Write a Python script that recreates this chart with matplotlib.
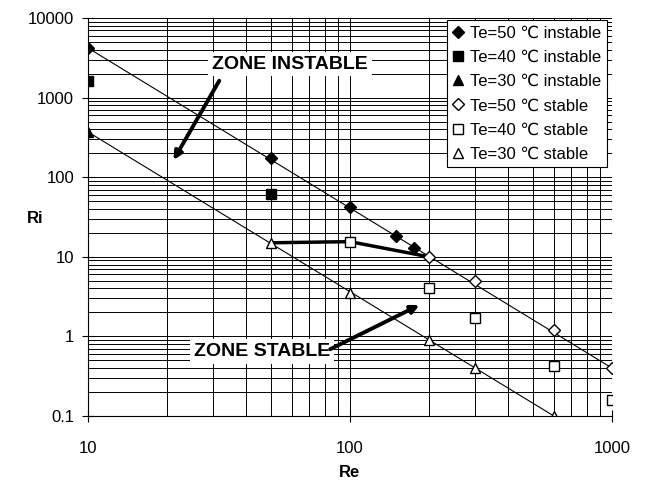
import matplotlib
matplotlib.use("Agg")
import matplotlib.pyplot as plt
from matplotlib.ticker import FixedLocator, LogLocator, FuncFormatter, NullFormatter

plt.rcParams["font.family"] = ["Liberation Sans Narrow", "Liberation Sans", "DejaVu Sans"]

# data (Re, Ri)
re_50_inst = [10, 50, 100, 150, 175]
ri_50_inst = [4200, 175, 42, 18, 13]
re_40_inst = [10, 50]
ri_40_inst = [1600, 62]
re_30_inst = [10]
ri_30_inst = [370]

re_50_stab = [200, 300, 600, 1000]
ri_50_stab = [10, 5, 1.2, 0.4]
re_40_stab = [100, 200, 300, 600, 1000]
ri_40_stab = [15.5, 4.1, 1.7, 0.43, 0.16]
re_30_stab = [50, 100, 200, 300, 600]
ri_30_stab = [15, 3.5, 0.9, 0.4, 0.1]

# trend lines (end points)
trend_hi_re = [10, 1000]
trend_hi_ri = [4200, 0.4]
trend_lo_re = [10, 600]
trend_lo_ri = [370, 0.1]

# thick connecting line
link_re = [50, 100, 200]
link_ri = [15, 15.5, 10]

fig = plt.figure(figsize=(6.45, 4.9), dpi=100)
ax = fig.add_axes([88 / 645, 1 - 416 / 490, 524 / 645, 398 / 490])
ax.set_xscale("log")
ax.set_yscale("log")
ax.set_xlim(10, 1000)
ax.set_ylim(0.1, 10000)

ax.grid(True, which="both", color="black", lw=0.7)
ax.set_axisbelow(True)

ax.plot(trend_hi_re, trend_hi_ri, color="black", lw=0.8)
ax.plot(trend_lo_re, trend_lo_ri, color="black", lw=0.8)
ax.plot(link_re, link_ri, color="black", lw=2.5, solid_capstyle="butt")

ms = 7
ax.plot(re_50_inst, ri_50_inst, "D", color="black", ms=ms - 1, ls="none", label="Te=50 ℃ instable")
ax.plot(re_40_inst, ri_40_inst, "s", color="black", ms=ms, ls="none", label="Te=40 ℃ instable")
ax.plot(re_30_inst, ri_30_inst, "^", color="black", ms=ms, ls="none", label="Te=30 ℃ instable")
ax.plot(re_50_stab, ri_50_stab, "D", mfc="white", mec="black", ms=ms - 1, ls="none", label="Te=50 ℃ stable")
ax.plot(re_40_stab, ri_40_stab, "s", mfc="white", mec="black", ms=ms, ls="none", label="Te=40 ℃ stable")
ax.plot(re_30_stab, ri_30_stab, "^", mfc="white", mec="black", ms=ms, ls="none", label="Te=30 ℃ stable")

ax.xaxis.set_major_locator(FixedLocator([10, 100, 1000]))
ax.xaxis.set_minor_locator(LogLocator(base=10, subs=range(2, 10)))
ax.xaxis.set_major_formatter(FuncFormatter(lambda v, p: "%g" % v))
ax.xaxis.set_minor_formatter(NullFormatter())
ax.yaxis.set_major_locator(FixedLocator([0.1, 1, 10, 100, 1000, 10000]))
ax.yaxis.set_minor_locator(LogLocator(base=10, subs=range(2, 10)))
ax.yaxis.set_major_formatter(FuncFormatter(lambda v, p: "%g" % v))
ax.yaxis.set_minor_formatter(NullFormatter())
ax.tick_params(which="major", direction="inout", length=8, labelsize=12, pad=6)
ax.tick_params(which="minor", length=0)
ax.tick_params(axis="x", pad=14)

for s in ["top", "right"]:
    ax.spines[s].set_visible(False)

ax.set_xlabel("Re", fontsize=12, fontweight="bold")
ax.set_ylabel("Ri", fontsize=12, fontweight="bold", rotation=0, va="center", ha="center")
ax.xaxis.set_label_coords(0.5, -0.123)
ax.yaxis.set_label_coords(-0.101, 0.497)

box = dict(boxstyle="square,pad=0.2", fc="white", ec="none")
arrow = dict(arrowstyle="-|>", lw=2.8, color="black", mutation_scale=12, shrinkA=0, shrinkB=0)

ax.text(59, 2640, "ZONE INSTABLE", fontsize=14, fontweight="bold", ha="center", va="center", bbox=box)
ax.annotate("", xy=(21.2, 164), xytext=(31.7, 1630), arrowprops=arrow)
ax.text(46, 0.64, "ZONE STABLE", fontsize=14, fontweight="bold", ha="center", va="center", bbox=box)
ax.annotate("", xy=(184, 2.48), xytext=(84, 0.69), arrowprops=arrow)

leg = ax.legend(loc="upper right", bbox_to_anchor=(0.99, 0.995), fontsize=12,
                frameon=True, fancybox=False, edgecolor="black", framealpha=1,
                handlelength=0.6, handletextpad=0.4, borderpad=0.35, labelspacing=0.55,
                borderaxespad=0)
leg.get_frame().set_linewidth(0.8)

fig.savefig("out.png", dpi=100)
